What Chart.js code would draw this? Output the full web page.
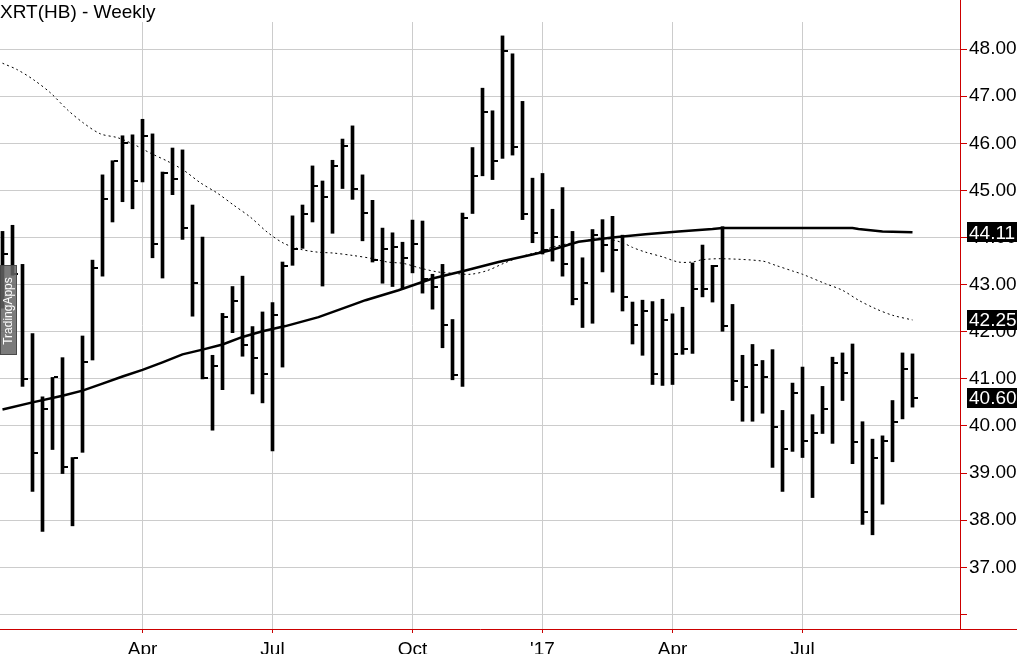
<!DOCTYPE html>
<html>
<head>
<meta charset="utf-8">
<script src="https://cdn.jsdelivr.net/npm/chart.js@4.4.0/dist/chart.umd.min.js"></script>
<style>
  html, body { margin: 0; padding: 0; background: #fff; overflow: hidden; }
  canvas { display: block; }
</style>
</head>
<body>
<canvas id="c" width="1017" height="654"></canvas>
<script>
// ---- Data (weekly bars, index 0 = first week shown) ----
const highs = [44.13,44.26,43.43,41.96,40.62,41.03,41.45,39.33,41.91,43.52,
  45.33,45.63,46.16,46.18,46.51,46.20,45.39,45.90,45.86,44.69,
  44.01,41.50,42.39,42.96,43.18,42.11,42.42,42.62,43.48,44.46,
  44.69,45.52,45.20,45.64,46.09,46.37,45.33,44.79,44.20,44.10,
  43.90,44.37,44.35,43.22,43.43,42.26,44.52,45.91,47.17,46.69,
  48.28,47.90,46.89,45.26,45.36,44.60,45.06,44.13,43.57,44.17,
  44.38,44.45,44.05,42.63,42.67,42.64,42.69,42.38,42.52,43.46,
  43.84,43.41,44.23,42.58,41.50,41.73,41.39,41.62,40.33,40.91,
  41.25,40.24,40.84,41.46,41.55,41.74,40.09,39.72,39.79,40.54,
  41.55,41.53];
const lows = [42.50,43.20,40.84,38.61,37.76,39.50,38.99,37.88,39.44,41.40,
  43.18,44.33,44.76,44.61,45.18,43.57,43.14,44.91,43.96,42.33,
  41.00,39.91,40.77,41.98,41.48,40.68,40.49,39.47,41.25,43.41,
  43.77,44.33,42.97,44.09,45.04,44.81,43.93,43.48,43.03,42.96,
  42.91,43.25,42.82,42.48,41.66,40.98,40.84,44.51,45.31,45.23,
  45.68,45.75,44.38,43.89,43.65,43.50,43.18,42.57,42.09,42.18,
  43.27,42.84,42.44,41.74,41.50,40.88,40.86,40.88,41.52,41.54,
  42.74,42.63,42.01,40.54,40.10,40.10,40.27,39.12,38.61,39.46,
  39.33,38.48,39.84,39.63,40.54,39.20,37.91,37.69,38.34,39.24,
  40.15,40.40];
const closes = [43.64,43.22,41.00,39.42,40.37,41.03,39.12,39.33,41.35,43.35,
  44.81,45.63,46.01,45.20,46.16,43.87,45.37,45.25,44.20,43.03,
  41.02,41.27,42.31,42.66,41.71,41.44,41.11,42.35,43.40,43.75,
  44.50,45.10,44.85,45.52,45.95,45.03,44.52,43.52,43.75,43.79,
  43.57,43.87,43.13,42.95,42.14,41.09,44.42,45.31,46.66,45.62,
  47.95,45.93,44.49,44.09,43.73,44.01,43.43,42.69,43.03,44.05,
  43.84,43.74,42.74,42.15,42.44,41.11,42.24,41.53,41.64,42.91,
  42.91,43.40,42.13,40.96,40.82,41.30,41.03,39.97,39.52,40.71,
  39.69,39.86,40.35,41.33,41.12,39.65,38.18,39.31,39.69,40.08,
  41.20,40.60];

// Long moving average (solid), read at week positions
const maLongIdx  = [0,3,6,8,10,12,14,16,18,20,22,24,26,28.3,31.6,35,36.3,39.6,43,46.3,49.6,53,54.8,57.6,61,64.3,67.6,71,72,85,85.6,88,91];
const maLongVals = [40.35,40.50,40.64,40.75,40.90,41.05,41.19,41.35,41.52,41.62,41.73,41.89,42.01,42.12,42.31,42.57,42.67,42.88,43.13,43.30,43.48,43.64,43.73,43.91,44.00,44.07,44.13,44.18,44.20,44.20,44.18,44.13,44.11];

// Short moving average (dashed), read at week positions
const maShortIdx  = [0,1.5,3.1,4.8,6.5,8.1,9.8,11.5,13.1,14.8,16.5,18.1,19.8,21.5,23.1,24.8,26.5,28.1,29.8,31.5,33.1,35,36.8,38.5,40.1,41.8,43.5,45.1,46.8,48.5,50.1,51.8,53.5,55.1,56.8,58.5,60.1,62,63,64.3,66,67.6,69,70,72,76,77.3,79,80,82.3,84,85.6,87.3,89,91];
const maShortVals = [47.70,47.56,47.35,47.07,46.71,46.43,46.20,46.12,45.98,45.79,45.62,45.43,45.16,44.94,44.69,44.43,44.11,43.88,43.75,43.69,43.67,43.62,43.56,43.48,43.45,43.35,43.27,43.24,43.22,43.30,43.45,43.59,43.69,43.80,43.88,43.94,43.99,43.89,43.79,43.69,43.59,43.48,43.48,43.53,43.55,43.50,43.41,43.29,43.22,43.02,42.88,42.67,42.49,42.35,42.25];

// Axis tick labels
const monthTickIdx = [14, 27, 41, 54, 67, 80];
const monthTickLabels = ['Apr', 'Jul', 'Oct', "'17", 'Apr', 'Jul'];
const priceTicks = [36,37,38,39,40,41,42,43,44,45,46,47,48];

// ---- Styling ----
const FONT = '"Liberation Sans", Arial, sans-serif';
const RED = '#cc0000';
const GRID = '#cccccc';
Chart.defaults.font.family = FONT;

// close tick image (right-side tick of an HLC bar)
const tickImg = document.createElement('canvas');
tickImg.width = 15; tickImg.height = 2;
(function(){ const g = tickImg.getContext('2d'); g.fillStyle = '#000'; g.fillRect(9, 0, 4, 2); })();

const axisExtend = {
  id: 'axisExtend',
  afterDraw(chart) {
    const ctx = chart.ctx, a = chart.chartArea;
    ctx.save();
    ctx.strokeStyle = RED;
    ctx.lineWidth = 1;
    ctx.beginPath();
    ctx.moveTo(Math.round(a.right) + 0.5, 0);
    ctx.lineTo(Math.round(a.right) + 0.5, a.top);
    ctx.moveTo(a.right, Math.round(a.bottom) + 0.5);
    ctx.lineTo(chart.width, Math.round(a.bottom) + 0.5);
    ctx.stroke();
    ctx.restore();
  }
};

const valueBoxes = {
  id: 'valueBoxes',
  afterDraw(chart) {
    const ys = chart.scales.y, ctx = chart.ctx, area = chart.chartArea;
    const vals = [maLongVals[maLongVals.length-1], maShortVals[maShortVals.length-1], closes[closes.length-1]];
    ctx.save();
    ctx.font = '19px ' + FONT;
    ctx.textBaseline = 'middle';
    ctx.textAlign = 'left';
    vals.forEach(v => {
      const py = ys.getPixelForValue(v);
      ctx.fillStyle = '#000';
      ctx.fillRect(area.right + 7, Math.round(py - 10), 60, 20);
      ctx.fillStyle = '#fff';
      ctx.fillText(v.toFixed(2), area.right + 9, py + 1);
    });
    ctx.restore();
  }
};

const watermark = {
  id: 'watermark',
  afterDraw(chart) {
    const ctx = chart.ctx;
    ctx.save();
    ctx.fillStyle = 'rgba(100,100,100,0.85)';
    ctx.fillRect(0, 265, 17, 90);
    ctx.strokeStyle = 'rgba(70,70,70,0.9)';
    ctx.strokeRect(0.5, 265.5, 16, 89);
    ctx.translate(9, 311);
    ctx.rotate(-Math.PI / 2);
    ctx.fillStyle = '#fff';
    ctx.font = '12px ' + FONT;
    ctx.textAlign = 'center';
    ctx.textBaseline = 'middle';
    ctx.fillText('TradingApps', 0, 0);
    ctx.restore();
  }
};

new Chart(document.getElementById('c'), {
  type: 'bar',
  data: {
    datasets: [
      {
        type: 'scatter',
        data: closes.map((c, i) => ({ x: i, y: c })),
        pointStyle: tickImg,
        pointRadius: 4,
        order: 0
      },
      {
        type: 'bar',
        data: highs.map((h, i) => ({ x: i, y: [lows[i], h] })),
        backgroundColor: '#000',
        borderWidth: 0,
        borderSkipped: false,
        barThickness: 3,
        order: 1
      },
      {
        type: 'line',
        data: maLongIdx.map((x, k) => ({ x: x, y: maLongVals[k] })),
        borderColor: '#000',
        borderWidth: 2.5,
        pointRadius: 0,
        fill: false,
        tension: 0,
        order: 2
      },
      {
        type: 'line',
        data: maShortIdx.map((x, k) => ({ x: x, y: maShortVals[k] })),
        borderColor: '#000',
        borderWidth: 1,
        borderDash: [2, 3],
        pointRadius: 0,
        fill: false,
        tension: 0.3,
        order: 3
      }
    ]
  },
  options: {
    responsive: false,
    animation: false,
    devicePixelRatio: 1,
    layout: { padding: 0, autoPadding: false },
    plugins: {
      legend: { display: false },
      tooltip: { enabled: false },
      title: {
        display: true,
        text: 'XRT(HB) - Weekly',
        align: 'start',
        color: '#000',
        font: { size: 19, weight: 'normal', family: FONT, lineHeight: 1 },
        padding: { top: 3, bottom: 0 }
      }
    },
    scales: {
      x: {
        type: 'linear',
        min: -0.25,
        max: 95.75,
        offset: false,
        afterBuildTicks: s => { s.ticks = monthTickIdx.map(v => ({ value: v })); },
        afterFit: s => { s.height = 25; },
        ticks: {
          autoSkip: false,
          maxRotation: 0,
          padding: 5,
          color: '#000',
          font: { size: 19, family: FONT },
          callback: (v, idx) => monthTickLabels[idx]
        },
        grid: { color: GRID, tickColor: RED, tickLength: 4, offset: false },
        border: { color: RED, width: 1 }
      },
      y: {
        type: 'linear',
        position: 'right',
        min: 35.69,
        max: 48.575,
        afterBuildTicks: s => { s.ticks = priceTicks.map(v => ({ value: v })); },
        afterFit: s => { s.width = 57; },
        ticks: {
          padding: 2,
          color: '#000',
          font: { size: 19, family: FONT },
          callback: v => (v === priceTicks[0] ? '' : Number(v).toFixed(2))
        },
        grid: { color: GRID, tickColor: RED, tickLength: 7, offset: false },
        border: { color: RED, width: 1 }
      }
    }
  },
  plugins: [axisExtend, valueBoxes, watermark]
});
</script>
</body>
</html>
